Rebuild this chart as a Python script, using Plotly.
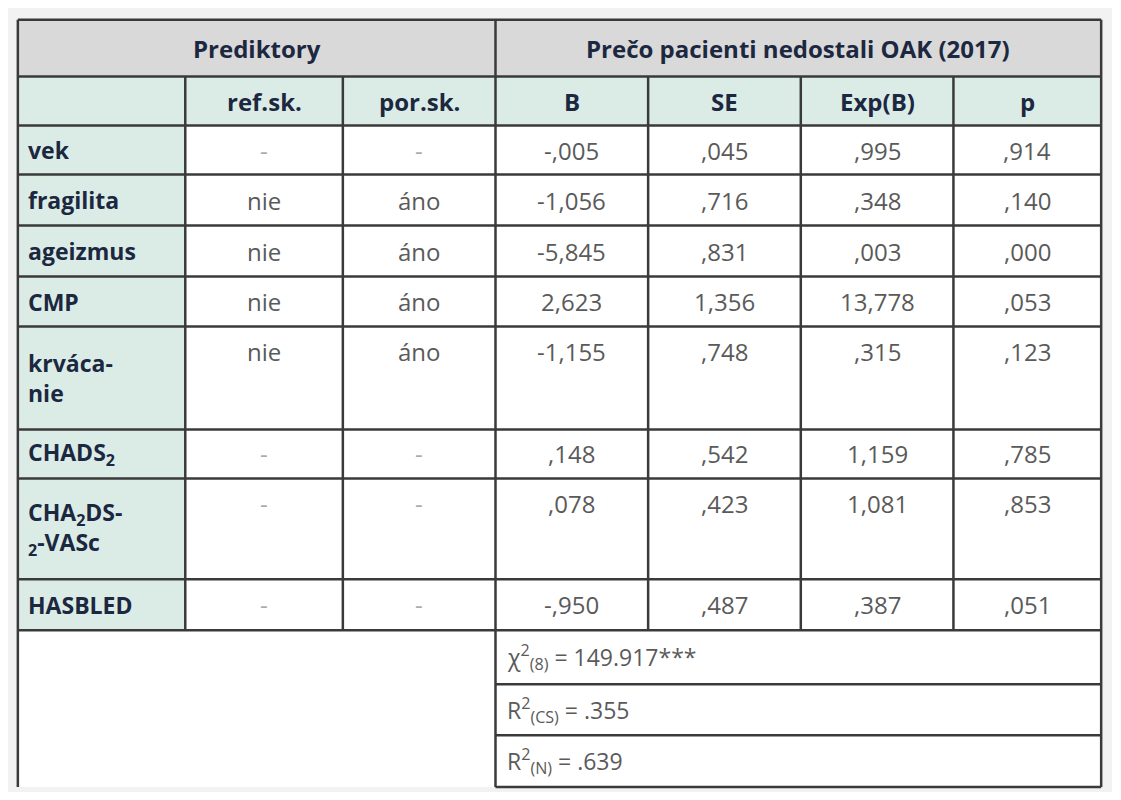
import plotly.graph_objects as go

predictors = ["vek", "fragilita", "ageizmus", "CMP", "krváca-<br>nie", "CHADS<sub>2</sub>",
              "CHA<sub>2</sub>DS-<br><sub>2</sub>-VASc", "HASBLED"]
ref_sk = ["-", "nie", "nie", "nie", "nie", "-", "-", "-"]
por_sk = ["-", "áno", "áno", "áno", "áno", "-", "-", "-"]
B = ["-,005", "-1,056", "-5,845", "2,623", "-1,155", ",148", ",078", "-,950"]
SE = [",045", ",716", ",831", "1,356", ",748", ",542", ",423", ",487"]
ExpB = [",995", ",348", ",003", "13,778", ",315", "1,159", "1,081", ",387"]
P = [",914", ",140", ",000", ",053", ",123", ",785", ",853", ",051"]
sub_headers = ["", "ref.sk.", "por.sk.", "B", "SE", "Exp(B)", "p"]
stats = ["χ<sup>2</sup><sub>(8)</sub> = 149.917***", "R<sup>2</sup><sub>(CS)</sub> = .355",
         "R<sup>2</sup><sub>(N)</sub> = .639"]

xs = [10, 180, 340, 495, 650, 805, 960, 1110]
ys = [12, 70, 120, 170, 222, 274, 325, 430, 480, 583, 635, 690, 742, 795]

TEAL = "#dbece7"; GRAY = "#d9d9d9"; NAVY = "#1c2740"; BODY = "#5a5a5a"; LINE = "#3a3a3a"
FONT = "Open Sans"
shapes = []; ann = []

def rect(x0, x1, y0, y1, fill):
    shapes.append(dict(type="rect", x0=x0, x1=x1, y0=y0, y1=y1, fillcolor=fill,
                       line=dict(width=0), layer="below"))

def line(x0, y0, x1, y1, w=2.5, c=LINE):
    shapes.append(dict(type="line", x0=x0, y0=y0, x1=x1, y1=y1, line=dict(color=c, width=w)))

def text(x, y, s, bold=False, color=BODY, anchor="center", size=24):
    ann.append(dict(x=x, y=y, text=f"<b>{s}</b>" if bold else s, showarrow=False,
                    xanchor=anchor, yanchor="middle", align="left" if anchor == "left" else "center",
                    font=dict(family=FONT, size=size, color=color)))

rect(xs[0], xs[-1], ys[0], ys[-1], "white")
rect(xs[0], xs[-1], ys[0], ys[1], GRAY)
rect(xs[0], xs[-1], ys[1], ys[2], TEAL)
rect(xs[0], xs[1], ys[2], ys[10], TEAL)

text((xs[0] + xs[3]) / 2, (ys[0] + ys[1]) / 2, "Prediktory", True, NAVY)
text((xs[3] + xs[-1]) / 2, (ys[0] + ys[1]) / 2, "Prečo pacienti nedostali OAK (2017)", True, NAVY)
for i, h in enumerate(sub_headers):
    if h:
        text((xs[i] + xs[i + 1]) / 2, (ys[1] + ys[2]) / 2, h, True, NAVY)

cols = [ref_sk, por_sk, B, SE, ExpB, P]
for r in range(len(predictors)):
    top, bot = ys[r + 2], ys[r + 3]
    tall = bot - top > 70
    yc = top + 26 if tall else (top + bot) / 2
    text(xs[0] + 8, (top + bot) / 2 if tall else yc, predictors[r], True, NAVY, "left", 23)
    for c, col in enumerate(cols):
        text((xs[c + 1] + xs[c + 2]) / 2, yc, col[r], color="#aaaaaa" if col[r] == "-" else BODY)

for k, s in enumerate(stats):
    text(xs[3] + 10, (ys[10 + k] + ys[11 + k]) / 2, s, anchor="left", size=23)

for y in ys[:11]:
    line(xs[0], y, xs[-1], y)
for y in ys[11:]:
    line(xs[3], y, xs[-1], y)
line(xs[0], ys[0], xs[0], ys[-1])
line(xs[-1], ys[0], xs[-1], ys[-1])
line(xs[3], ys[0], xs[3], ys[-1])
for i in [1, 2, 4, 5, 6]:
    line(xs[i], ys[1], xs[i], ys[10])

fig = go.Figure()
fig.update_layout(width=1104, height=784, margin=dict(l=0, r=0, t=0, b=0),
                  paper_bgcolor="#f2f2f2", plot_bgcolor="#f2f2f2",
                  xaxis=dict(range=[0, 1121], visible=False, fixedrange=True),
                  yaxis=dict(range=[800, 0], visible=False, fixedrange=True),
                  shapes=shapes, annotations=ann, showlegend=False)
fig.write_html("out.html")
